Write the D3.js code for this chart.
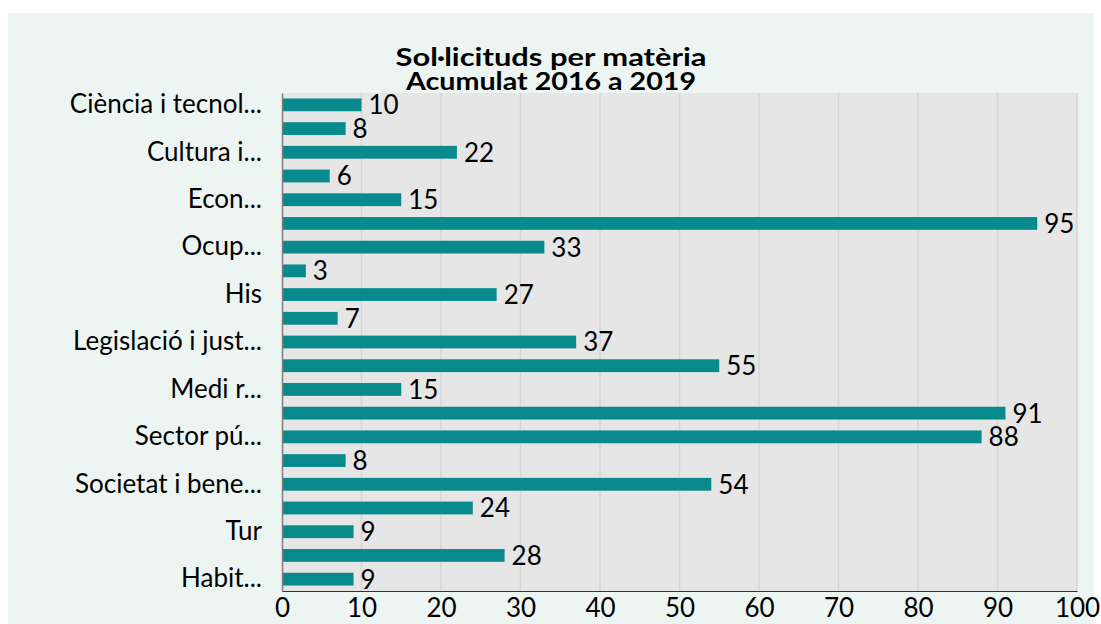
<!DOCTYPE html>
<html>
<head>
<meta charset="utf-8">
<script src="https://cdn.jsdelivr.net/npm/d3@7"></script>
<style>
  html, body { margin: 0; padding: 0; background: #ffffff; }
  svg { display: block; }
  text { font-family: Lato, "Open Sans", sans-serif; fill: #000; }
</style>
</head>
<body>
<svg id="chart" width="1101" height="624"></svg>
<script>
// Requests by subject, accumulated 2016-2019 (top to bottom)
const categories = [
  "Ciència i tecnol...", "Comerç i consum", "Cultura i...", "Demografia",
  "Econ...", "Educació", "Ocup...", "Energia", "His", "Indústria",
  "Legislació i just...", "Llengua", "Medi r...", "Salut", "Sector pú...",
  "Seguretat", "Societat i bene...", "Transport", "Tur", "Urbanisme", "Habit..."
];
const values = [10, 8, 22, 6, 15, 95, 33, 3, 27, 7, 37, 55, 15, 91, 88, 8, 54, 24, 9, 28, 9];
const xTicks = [0, 10, 20, 30, 40, 50, 60, 70, 80, 90, 100];
const titleLines = ["Sol·licituds per matèria", "Acumulat 2016 a 2019"];

const svg = d3.select("#chart");
const W = 1101, H = 624;
const plot = { left: 282, right: 1077, top: 93, bottom: 591 };

// page background panel
svg.append("rect").attr("x", 8).attr("y", 13).attr("width", 1086).attr("height", H - 13)
  .attr("fill", "#edf5f3");

const x = d3.scaleLinear().domain([0, 100]).range([plot.left, plot.right]);
const y = d3.scaleBand().domain(categories).range([plot.top, plot.bottom]).paddingInner(0.46).paddingOuter(0.23);

// plot area
svg.append("rect").attr("x", plot.left).attr("y", plot.top)
  .attr("width", plot.right - plot.left).attr("height", plot.bottom - plot.top)
  .attr("fill", "#e6e6e6");

// vertical gridlines
svg.append("g").selectAll("line").data(xTicks.filter(d => d > 0)).join("line")
  .attr("x1", d => x(d)).attr("x2", d => x(d))
  .attr("y1", plot.top).attr("y2", plot.bottom)
  .attr("stroke", "#d6d6d6").attr("stroke-width", 1.5);

// bars
svg.append("g").selectAll("rect").data(values).join("rect")
  .attr("x", x(0))
  .attr("y", (d, i) => y(categories[i]))
  .attr("width", d => x(d) - x(0))
  .attr("height", y.bandwidth())
  .attr("fill", "#088a8c");

// value labels
svg.append("g").selectAll("text").data(values).join("text")
  .attr("x", d => x(d) + 7)
  .attr("y", (d, i) => y(categories[i]) + y.bandwidth() / 2)
  .attr("dy", "0.36em")
  .attr("font-size", 26)
  .text(d => d);

// x axis
const xAxis = svg.append("g").attr("transform", `translate(0,${plot.bottom})`)
  .call(d3.axisBottom(x).tickValues(xTicks).tickSize(0).tickPadding(8));
xAxis.select(".domain").attr("stroke", "#333").attr("stroke-width", 1);
xAxis.selectAll("text").attr("font-size", 26).attr("font-family", "Lato").attr("fill", "#000");

// y axis, every other category labelled
const yAxis = svg.append("g").attr("transform", `translate(${plot.left},0)`)
  .call(d3.axisLeft(y).tickSize(0).tickPadding(20)
    .tickFormat((d, i) => i % 2 === 0 ? d : ""));
yAxis.select(".domain").attr("stroke", "#7f7f7f").attr("stroke-width", 1.5);
yAxis.selectAll("text").attr("font-size", 26).attr("font-family", "Lato").attr("fill", "#000");

// title, two stacked lines stretched to their set widths
const titleWidths = [311, 290];
svg.append("g").selectAll("text").data(titleLines).join("text")
  .attr("x", 551)
  .attr("y", (d, i) => 66 + i * 24)
  .attr("text-anchor", "middle")
  .attr("font-size", 25)
  .attr("font-weight", "bold")
  .attr("textLength", (d, i) => titleWidths[i])
  .attr("lengthAdjust", "spacingAndGlyphs")
  .text(d => d);
</script>
</body>
</html>
